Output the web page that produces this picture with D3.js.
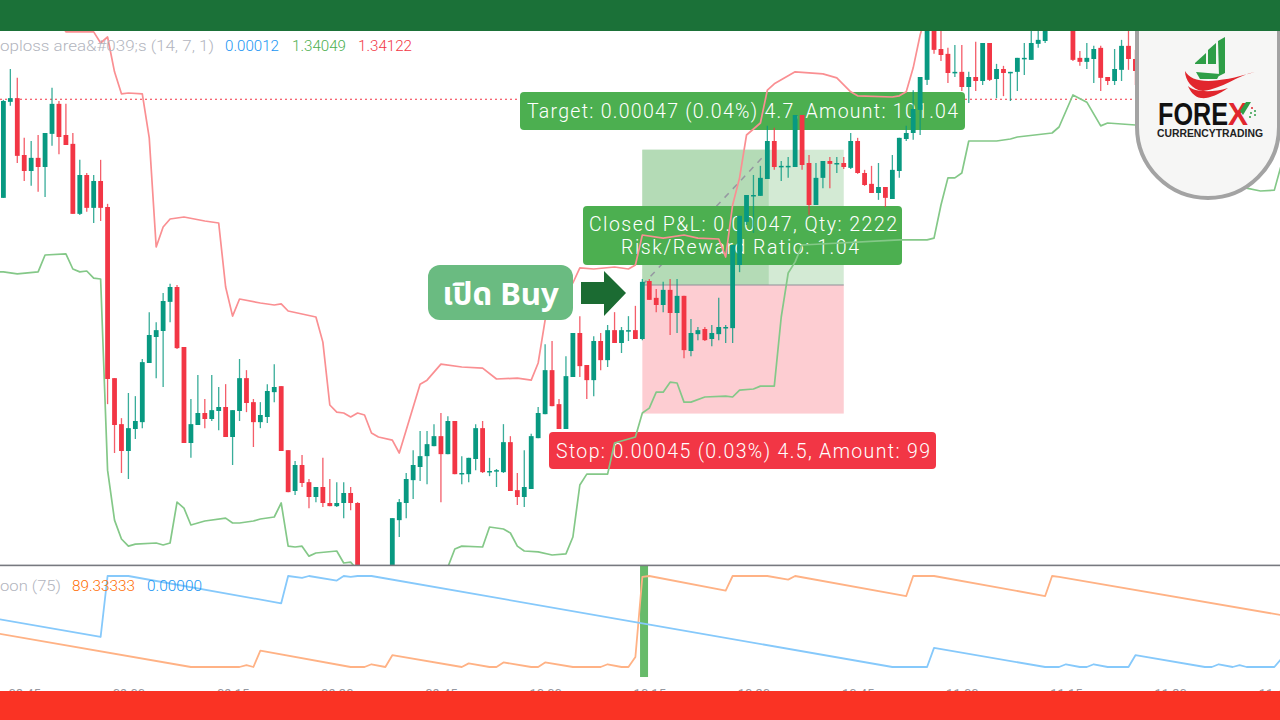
<!DOCTYPE html>
<html>
<head>
<meta charset="utf-8">
<style>
html,body{margin:0;padding:0;background:#fff;width:1280px;height:720px;overflow:hidden}
svg{display:block}
</style>
<script src="https://d3js.org/d3.v7.min.js"></script>
</head>
<body>
<svg id="c" width="1280" height="720"></svg>
<script>
// Prices are stored in millionths above BASE_PRICE.
const BASE_PRICE = 1.34;
const opens = [395,731,744,545,489,535,503,619,724,615,584,339,475,360,454,363,-236,-397,-491,-414,-390,-183,-92,-71,31,83,-127,-463,-400,-358,-379,-351,-337,-442,-351,-236,-320,-390,-372,-285,-264,-488,-631,-540,-600,-652,-617,-673,-684,-673,-638,-673,-978,-925,-1013,-1040,-990,-733,-673,-593,-547,-509,-474,-439,-502,-386,-572,-572,-519,-411,-565,-561,-565,-460,-628,-652,-624,-446,-362,-208,-327,-414,-232,-78,-190,-243,-106,-173,-68,-113,-71,-68,-99,104,45,20,73,-8,52,-141,-82,-64,-99,-82,-61,-61,160,311,402,402,461,594,503,503,503,685,517,370,465,524,514,517,500,594,482,444,412,433,391,489,601,622,703,808,1035,916,899,832,836,783,818,804,937,811,846,832,836,881,878,934,944,1035,1070,1035,1035,885,871,881,920,818,804,843,927,881];
const highs = [738,846,815,605,594,615,622,780,734,724,622,528,482,475,528,374,-236,-376,-288,-299,-169,-5,-40,62,94,90,-127,-309,-225,-309,-225,-267,-257,-348,-169,-208,-309,-320,-257,-187,-264,-488,-526,-505,-589,-617,-515,-589,-600,-600,-617,-670,-900,-905,-1000,-960,-726,-659,-568,-488,-421,-421,-397,-358,-369,-386,-509,-515,-397,-386,-515,-554,-397,-439,-568,-488,-431,-337,-117,-106,-309,-159,-78,-19,-190,-89,-78,-50,-5,-57,-19,17,111,111,76,101,111,111,52,-29,-57,-57,-50,45,-50,230,332,405,475,507,647,640,524,538,685,685,545,517,524,538,538,538,622,605,493,507,517,433,545,605,647,772,818,1052,1052,979,920,930,930,836,941,937,937,864,857,836,885,937,979,990,1052,1087,1087,1087,1052,909,937,927,927,818,916,948,979,913];
const lows = [395,717,517,454,437,416,398,577,548,580,339,335,346,307,314,-327,-498,-568,-589,-449,-411,-183,-236,-267,-40,-134,-463,-515,-400,-411,-386,-418,-442,-540,-386,-355,-477,-411,-393,-320,-491,-635,-645,-617,-691,-670,-687,-684,-687,-726,-698,-960,-995,-1030,-1055,-1060,-1000,-792,-726,-659,-596,-607,-474,-670,-502,-572,-607,-600,-558,-568,-579,-617,-568,-631,-680,-687,-624,-446,-362,-334,-414,-414,-232,-232,-309,-299,-208,-197,-113,-148,-106,-99,-103,38,-5,-5,-85,-78,-166,-159,-103,-106,-124,-103,-113,-113,135,300,272,402,461,493,454,465,503,493,335,370,429,429,482,496,496,479,437,412,388,363,391,465,594,598,615,790,899,874,797,818,769,727,769,790,804,744,751,734,769,825,878,920,937,1000,1020,1020,874,857,846,797,769,790,790,804,843,790];
const closes = [734,744,542,489,535,503,622,724,608,580,339,475,360,454,360,-239,-400,-491,-411,-386,-180,-85,-68,34,83,-131,-463,-397,-358,-379,-348,-337,-442,-348,-236,-323,-390,-365,-281,-267,-491,-635,-540,-603,-652,-617,-673,-684,-673,-638,-673,-925,-925,-1013,-1040,-990,-726,-670,-589,-540,-509,-467,-439,-502,-386,-572,-568,-515,-411,-565,-561,-558,-460,-631,-652,-617,-439,-358,-208,-334,-414,-229,-78,-194,-243,-106,-173,-68,-113,-68,-68,-99,101,38,20,73,-8,52,-138,-78,-68,-103,-78,-57,-57,230,332,405,405,465,594,503,507,507,685,510,370,465,524,514,517,503,594,482,440,412,433,395,493,605,622,706,818,1035,913,895,832,836,783,818,804,937,808,846,832,836,885,885,937,948,1035,1070,1035,1070,878,871,885,916,815,804,846,927,881,839];

const upperBandBars = [8,9,13,14,15,16,17,18,20,21,22,23,24,26,29,31,32,33,34,37,39,40,41,45,46,47,48,49,50,51,52,53,54,56,57,60,61,63,66,69,71,74,76,77,78,79,80,81,82,83,85,88,90,91,92,95,98,100,103,104,105,106,107,109,110,111,114,118,120,122,123,128,129,130,131,132,133];
const upperBandValues = [1018,976,976,937,958,836,759,762,759,605,223,293,321,328,314,307,83,-19,41,27,20,24,-1,-22,-110,-330,-355,-358,-372,-358,-365,-428,-442,-453,-498,-257,-243,-187,-197,-201,-239,-236,-243,-183,-33,38,55,73,97,150,146,153,146,160,265,254,265,254,251,188,370,465,615,657,772,794,836,829,815,766,752,748,752,766,850,965,1052];

const lowerBandBars = [-1,0,2,5,6,9,10,11,12,13,14,15,16,17,18,19,22,23,24,25,26,27,28,29,32,33,34,36,37,39,40,41,42,43,44,45,48,49,50,51,55,60,64,65,66,69,70,72,73,74,75,77,79,81,82,83,84,87,88,91,92,93,94,95,96,97,98,99,101,104,105,106,108,109,111,112,113,114,115,129,133,134,135,136,137,138,139,143,145,146,151,152,154,156,158,159,163,170,178,179,181,183,184];
const lowerBandValues = [136,136,129,136,195,199,146,136,139,114,111,-558,-733,-799,-824,-817,-813,-820,-813,-670,-691,-750,-743,-736,-726,-743,-743,-736,-729,-722,-673,-824,-827,-824,-859,-848,-841,-883,-880,-908,-960,-960,-897,-834,-824,-827,-757,-764,-778,-824,-841,-844,-855,-851,-792,-610,-572,-572,-463,-442,-358,-341,-285,-285,-250,-253,-320,-320,-302,-299,-302,-278,-274,-264,-264,-22,132,171,230,248,248,254,370,465,465,482,594,594,601,608,622,643,755,730,647,657,650,643,436,429,419,422,510];

const aroonDownBars = [-1,14,15,18,40,41,43,44,48,49,50,51,53,92,128,133,134,150,152,153,155,156,157,159,162,163,173,174,175,177,178,179,183,184];
const aroonDownValues = [53,33,100,100,70,100,98,100,95,100,99,100,100,48,0,0,21,0,0,3,0,0,3,0,0,13,0,0,3,0,2,0,0,9];
const aroonUpBars = [-1,27,34,35,36,37,50,52,53,55,56,66,67,70,71,72,76,77,78,82,86,87,89,90,91,92,93,104,105,110,113,114,130,131,134,150,151,152,184];
const aroonUpValues = [37,0,0,2,0,18,0,0,3,0,13,0,4,0,0,5,0,0,5,0,0,3,0,0,11,99,100,84,100,100,96,100,78,100,100,78,100,99,57];

const timeTickBars = [3,18,33,48,63,78,93,108,123,138,153,168,183];
const timeTickLabels = ["08:45","09:00","09:15","09:30","09:45","10:00","10:15","10:30","10:45","11:00","11:15","11:30","11:45"];

// Position tool, in price terms
const entryPrice = 1.34009, targetPrice = 1.34056, stopPrice = 1.33964, lastPrice = 1.34074;
const positionStartBar = 92, positionCloseBar = 110.2, positionEndBar = 121;
const signalBar = 92;

const targetLabel = "Target: 0.00047 (0.04%) 4.7, Amount: 101.04";
const closedLabel1 = "Closed P&L: 0.00047, Qty: 2222";
const closedLabel2 = "Risk/Reward Ratio: 1.04";
const stopLabel = "Stop: 0.00045 (0.03%) 4.5, Amount: 99";
const buyLabel = "เปิด Buy";
const legendTop = [
  {t:"oploss area&#039;s (14, 7, 1)", c:"#b2b5be"},
  {t:"0.00012", c:"#2196f3"},
  {t:"1.34049", c:"#4caf50"},
  {t:"1.34122", c:"#f23645"}];
const legendBottom = [
  {t:"oon (75)", c:"#b2b5be"},
  {t:"89.33333", c:"#ff6d00"},
  {t:"0.00000", c:"#2196f3"}];

const W = 1280, H = 720;
const svg = d3.select("#c");
const x = d3.scaleLinear().domain([0,183]).range([3.4, 3.4 + 6.945*183]);
// 1 px = 3.5e-6 of price
const y = d3.scaleLinear().domain([BASE_PRICE - 890e-6, BASE_PRICE + 1087.5e-6]).range([565, 0]);
const val = v => BASE_PRICE + v*1e-6;
const yA = d3.scaleLinear().domain([0,100]).range([667,576]);

const defs = svg.append("defs");
defs.append("clipPath").attr("id","main").append("rect").attr("x",0).attr("y",31).attr("width",W).attr("height",534);
defs.append("clipPath").attr("id","sub").append("rect").attr("x",0).attr("y",566).attr("width",W).attr("height",125);

svg.append("rect").attr("width",W).attr("height",H).attr("fill","#fff");
const main = svg.append("g").attr("clip-path","url(#main)");
const LF = "Roboto,'Noto Sans',sans-serif";

// position tool
const px0 = x(positionStartBar), px1 = x(positionEndBar), pxC = x(positionCloseBar);
main.append("rect").attr("x",px0).attr("y",y(targetPrice)-1).attr("width",px1-px0).attr("height",y(entryPrice)-y(targetPrice)+1).attr("fill","#d3ead4");
main.append("rect").attr("x",px0).attr("y",y(targetPrice)-1).attr("width",pxC-px0).attr("height",y(entryPrice)-y(targetPrice)+1).attr("fill","#b4dbb6");
main.append("rect").attr("x",px0).attr("y",y(entryPrice)).attr("width",px1-px0).attr("height",y(stopPrice)-y(entryPrice)).attr("fill","#fdcdd2");
main.append("line").attr("x1",px0).attr("x2",pxC).attr("y1",y(entryPrice)).attr("y2",y(targetPrice)).attr("stroke","#9598a1").attr("stroke-width",1.5).attr("stroke-dasharray","6 6");
main.append("line").attr("x1",px0).attr("x2",px1).attr("y1",y(entryPrice)).attr("y2",y(entryPrice)).attr("stroke","#8f8f97").attr("stroke-width",1.2);
// last price line
main.append("line").attr("x1",0).attr("x2",W).attr("y1",y(lastPrice)).attr("y2",y(lastPrice)).attr("stroke","#f23645").attr("stroke-width",1.1).attr("stroke-dasharray","2 3");

// labels, drawn below the candles
function label(x0,y0,w,h,fill,lines){
  main.append("rect").attr("x",x0).attr("y",y0).attr("width",w).attr("height",h).attr("rx",4).attr("fill",fill);
  lines.forEach(l=>{
    main.append("text").attr("x",l.x).attr("y",l.y).attr("textLength",l.w).attr("lengthAdjust","spacing")
      .attr("font-family",LF).attr("font-weight",300).attr("font-size",19.5).attr("fill","#fff").text(l.t);
  });
}
label(520,92,445,38,"#4caf50",[{x:527,y:118,w:431,t:targetLabel}]);
label(583,206,319,59,"#4caf50",[{x:589,y:231,w:308,t:closedLabel1},{x:621,y:254,w:238,t:closedLabel2}]);
label(549,432,387,37,"#f23645",[{x:556,y:458,w:374,t:stopLabel}]);

// candles
const UP="#089981", DN="#f23645";
const bars = opens.map((o,i)=>i);
const c = main.append("g");
c.selectAll("line").data(bars).join("line")
  .attr("x1",i=>x(i)).attr("x2",i=>x(i)).attr("y1",i=>y(val(highs[i]))).attr("y2",i=>y(val(lows[i])))
  .attr("stroke",i=>closes[i]>=opens[i]?UP:DN).attr("stroke-width",1.3).attr("opacity",.8);
c.selectAll("rect").data(bars).join("rect")
  .attr("x",i=>x(i)-2.4).attr("width",4.8)
  .attr("y",i=>Math.min(y(val(opens[i])),y(val(closes[i]))))
  .attr("height",i=>Math.max(1.5,Math.abs(y(val(opens[i]))-y(val(closes[i])))))
  .attr("fill",i=>closes[i]>=opens[i]?UP:DN);

// bands
function series(g,bs,vs,sy,color,w){
  const line = d3.line().x(d=>x(d[0])).y(d=>sy(d[1]));
  g.append("path").datum(bs.map((b,i)=>[b,vs[i]])).attr("d",line).attr("fill","none")
   .attr("stroke",color).attr("stroke-width",w).attr("stroke-linejoin","round");
}
series(main,upperBandBars,upperBandValues,v=>y(val(v)),"#fa8f92",1.7);
series(main,lowerBandBars,lowerBandValues,v=>y(val(v)),"#84c888",1.7);

// legends
function legend(items,xs,yy,fs){
  items.forEach((d,i)=>{
    svg.append("text").attr("x",xs[i][0]).attr("y",yy).attr("textLength",xs[i][1]).attr("lengthAdjust","spacingAndGlyphs")
      .attr("font-family","Roboto,sans-serif").attr("font-weight",300).attr("font-size",15).attr("fill",d.c).text(d.t);
  });
}
legend(legendTop,[[0,214],[225,54],[292,54],[358,54]],51);

// aroon pane
const sub = svg.append("g").attr("clip-path","url(#sub)");
sub.append("rect").attr("x",x(signalBar)-2.3).attr("y",yA(100)-15).attr("width",8).attr("height",yA(-11)-yA(100)+15).attr("fill","#4caf50").attr("opacity",.85);
series(sub,aroonUpBars,aroonUpValues,yA,"#ffb285",1.8);
series(sub,aroonDownBars,aroonDownValues,yA,"#86c9fb",1.8);
legend(legendBottom,[[0,61],[72,63],[147,55]],591);

// time axis, mostly hidden under the bottom band
const ax = d3.axisBottom(x).tickValues(timeTickBars).tickFormat((d,i)=>timeTickLabels[i]).tickSize(0).tickPadding(0);
const axG = svg.append("g").attr("transform","translate(0,688.5)").call(ax);
axG.select(".domain").remove();
axG.selectAll("text").attr("font-family","Roboto,sans-serif").attr("font-size",13).attr("fill","#9598a1");

// pane separator and bands
svg.append("rect").attr("x",0).attr("y",564.6).attr("width",W).attr("height",1.6).attr("fill","#77797f");
svg.append("rect").attr("x",0).attr("y",0).attr("width",W).attr("height",31).attr("fill","#1b7138");
svg.append("rect").attr("x",0).attr("y",691).attr("width",W).attr("height",29).attr("fill","#fa3324");

// overlay: open-buy box and arrow
svg.append("rect").attr("x",428).attr("y",265).attr("width",145).attr("height",55).attr("rx",12).attr("fill","#6abb81");
svg.append("text").attr("x",500.5).attr("y",305).attr("text-anchor","middle")
  .attr("font-family","'Noto Sans','Noto Sans Thai','DejaVu Sans',sans-serif").attr("font-weight",700).attr("font-size",31).attr("fill","#fff").text(buyLabel);
svg.append("polygon").attr("points","581,282 604,282 604,271 626,293 604,316 604,304 581,304").attr("fill","#1b6b32");

// logo
const logo = svg.append("g");
logo.append("path").attr("d","M1137,29 V127 A71,71 0 0 0 1279,127 V29 Z").attr("fill","#f6f6f5").attr("stroke","#a3a3a3").attr("stroke-width",4);
logo.append("rect").attr("x",1130).attr("y",0).attr("width",150).attr("height",31).attr("fill","#1b7138");
logo.append("polygon").attr("points","1195,63 1206,53 1206,64 1195,64").attr("fill","#2e9e47");
logo.append("polygon").attr("points","1208,64 1208,50 1216,43 1216,64").attr("fill","#2e9e47");
logo.append("polygon").attr("points","1218,41 1225,37 1225,73 1219,76").attr("fill","#2e9e47");
logo.append("path").attr("d","M1196,72 L1220,74 L1217,79 L1200,79 Z").attr("fill","#2e9e47");
logo.append("path").attr("d","M1185,71 C1192,84 1215,84 1255,72 C1238,75 1222,89 1203,91 C1192,90 1185,80 1185,71 Z").attr("fill","#e1262d");
logo.append("path").attr("d","M1188,86 C1194,92 1212,93 1228,88 C1218,95 1208,99 1201,98 C1194,97 1190,91 1188,86 Z").attr("fill","#e1262d");
const LL = "'Liberation Sans',Arial,sans-serif";
logo.append("text").attr("x",1158).attr("y",125).attr("textLength",70).attr("lengthAdjust","spacingAndGlyphs")
  .attr("font-family",LL).attr("font-weight",700).attr("font-size",31).attr("fill","#111").text("FORE");
logo.append("text").attr("x",1228).attr("y",125).attr("textLength",20).attr("lengthAdjust","spacingAndGlyphs")
  .attr("font-family",LL).attr("font-weight",700).attr("font-size",31).attr("fill","#e1262d").text("X");
logo.append("polygon").attr("points","1246,102 1251,102 1243,115 1240,111").attr("fill","#2e9e47");
[[1252,108],[1255,111],[1251,113],[1255,115],[1250,117]].forEach(p=>logo.append("circle").attr("cx",p[0]).attr("cy",p[1]).attr("r",1).attr("fill",p[1]%2?"#2e9e47":"#e1262d"));
logo.append("text").attr("x",1157).attr("y",137).attr("textLength",106).attr("lengthAdjust","spacingAndGlyphs")
  .attr("font-family",LL).attr("font-weight",700).attr("font-size",10).attr("fill","#222").text("CURRENCYTRADING");
</script>
</body>
</html>
